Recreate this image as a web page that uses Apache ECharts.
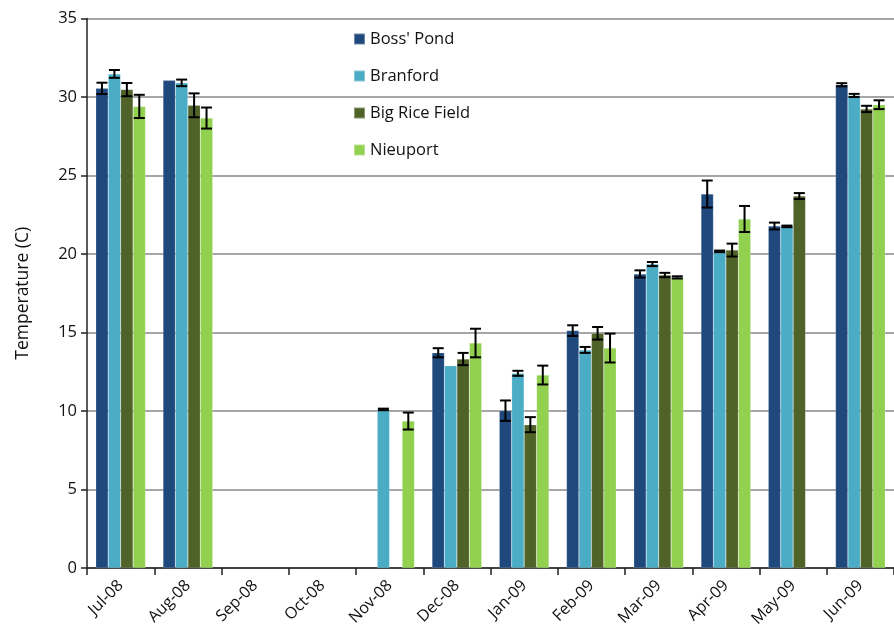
<!DOCTYPE html>
<html>
<head>
<meta charset="utf-8">
<script src="https://cdn.jsdelivr.net/npm/echarts@6/dist/echarts.min.js"></script>
<style>html,body{margin:0;padding:0;background:#fff;}#c{width:894px;height:632px;}</style>
</head>
<body>
<div id="c"></div>
<script>
const categories = ['Jul-08','Aug-08','Sep-08','Oct-08','Nov-08','Dec-08','Jan-09','Feb-09','Mar-09','Apr-09','May-09','Jun-09'];
const seriesNames = ["Boss' Pond", 'Branford', 'Big Rice Field', 'Nieuport'];
const boss        = [30.55, 31.06, null, null, null, 13.71, 10.02, 15.12, 18.73, 23.82, 21.78, 30.78];
const bossErr     = [0.36, 0, null, null, null, 0.29, 0.65, 0.34, 0.23, 0.86, 0.22, 0.1];
const branford    = [31.47, 30.9, null, null, 10.1, 12.89, 12.4, 13.89, 19.36, 20.17, 21.76, 30.1];
const branfordErr = [0.25, 0.21, null, null, 0.05, 0, 0.16, 0.19, 0.13, 0.05, 0.05, 0.1];
const bigRice     = [30.47, 29.47, null, null, null, 13.31, 9.13, 14.95, 18.66, 20.25, 23.69, 29.24];
const bigRiceErr  = [0.42, 0.76, null, null, null, 0.39, 0.48, 0.4, 0.14, 0.41, 0.19, 0.2];
const nieuport    = [29.4, 28.66, null, null, 9.36, 14.33, 12.29, 14.01, 18.51, 22.23, null, 29.51];
const nieuportErr = [0.74, 0.67, null, null, 0.54, 0.91, 0.6, 0.92, 0.07, 0.83, null, 0.28];
const yTicks = [0, 5, 10, 15, 20, 25, 30, 35];

const colors = ['#1F497D', '#4BACC6', '#4F6228', '#92D050'];
const values = [boss, branford, bigRice, nieuport];
const errs = [bossErr, branfordErr, bigRiceErr, nieuportErr];
const GAP = 0.26;
const FONT = 'Open Sans, Noto Sans, sans-serif';

const chart = echarts.init(document.getElementById('c'));
const series = [];
values.forEach((v, i) => {
  series.push({
    name: seriesNames[i], type: 'bar', data: v.map(x => x === null ? '-' : x),
    barGap: '0%', barCategoryGap: (GAP * 100) + '%',
    itemStyle: { color: colors[i], borderColor: 'rgba(255,255,255,0.35)', borderWidth: 0.5 },
    emphasis: { disabled: true }, z: 2
  });
});
values.forEach((v, i) => {
  const d = [];
  v.forEach((val, k) => {
    if (val !== null && errs[i][k]) d.push([k, val - errs[i][k], val + errs[i][k]]);
  });
  series.push({
    type: 'custom', name: 'err' + i, data: d, z: 5, silent: true,
    encode: { x: 0, y: [1, 2] },
    renderItem: function (params, api) {
      const k = api.value(0);
      const band = api.size([1, 0])[0];
      const bw = band * (1 - GAP) / 4;
      const c = api.coord([k, 0]);
      const x = c[0] + (i - 1.5) * bw;
      const lo = api.coord([k, api.value(1)])[1];
      const hi = api.coord([k, api.value(2)])[1];
      const cap = 5.5;
      const st = { stroke: '#000', lineWidth: 2 };
      return { type: 'group', children: [
        { type: 'line', shape: { x1: x, y1: lo, x2: x, y2: hi }, style: st },
        { type: 'line', shape: { x1: x - cap, y1: lo, x2: x + cap, y2: lo }, style: st },
        { type: 'line', shape: { x1: x - cap, y1: hi, x2: x + cap, y2: hi }, style: st }
      ]};
    }
  });
});

chart.setOption({
  animation: false,
  backgroundColor: '#fff',
  grid: { left: 87, top: 18.5, width: 816, bottom: 64 },
  legend: {
    data: seriesNames, orient: 'vertical', left: 348, top: 25,
    itemWidth: 11, itemHeight: 11, itemGap: 19, icon: 'rect',
    textStyle: { fontFamily: FONT, fontSize: 16.5, color: '#111', lineHeight: 18 }
  },
  xAxis: {
    type: 'category', data: categories,
    axisLine: { lineStyle: { color: '#222', width: 1.5 } },
    axisTick: { show: true, length: 7, lineStyle: { color: '#222', width: 1.5 } },
    axisLabel: { rotate: 45, fontSize: 16, color: '#111', margin: 15, fontFamily: FONT }
  },
  yAxis: {
    type: 'value', min: yTicks[0], max: yTicks[yTicks.length - 1], interval: 5,
    name: 'Temperature (C)', nameLocation: 'middle', nameGap: 55, nameRotate: 90,
    nameTextStyle: { fontSize: 17.5, color: '#111', fontFamily: FONT },
    axisLine: { show: true, lineStyle: { color: '#222', width: 1.5 } },
    axisTick: { show: true, length: 6, lineStyle: { color: '#222', width: 1.5 } },
    axisLabel: { fontSize: 16.5, color: '#111', margin: 10, fontFamily: FONT },
    splitLine: { show: true, lineStyle: { color: '#a6a6a6', width: 2 } }
  },
  series: series
});
</script>
</body>
</html>
